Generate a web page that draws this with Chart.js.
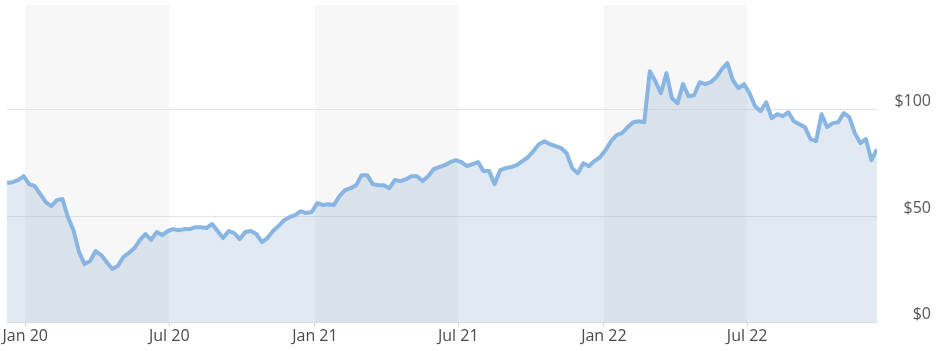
<!DOCTYPE html>
<html>
<head>
<meta charset="utf-8">
<script src="https://cdn.jsdelivr.net/npm/chart.js@4.4.1/dist/chart.umd.min.js"></script>
<style>
  html, body { margin: 0; padding: 0; background: #fff; }
  #wrap { width: 942px; height: 351px; position: relative; }
</style>
</head>
<body>
<div id="wrap"><canvas id="priceChart"></canvas></div>
<script>
const DAY = 86400000;

// weekly closes, first week starts Mon 9 Dec 2019
const firstWeek = Date.UTC(2019, 11, 9);
const weeklyPrices = [
  65.5, 65.9, 66.9, 68.7, 65.0, 64.1, 60.3, 56.6, 54.7, 57.5,
  58.0, 49.5, 43.4, 33.1, 27.5, 28.9, 33.6, 31.7, 28.4, 25.2,
  26.6, 30.8, 32.7, 35.0, 38.8, 41.6, 38.8, 42.5, 41.1, 43.0,
  43.9, 43.4, 43.9, 43.9, 44.8, 44.8, 44.4, 46.3, 43.0, 39.7,
  43.0, 42.0, 39.2, 42.5, 43.0, 41.6, 37.8, 39.7, 43.0, 45.3,
  48.1, 49.5, 50.5, 52.3, 51.4, 51.9, 56.1, 55.2, 55.6, 55.2,
  59.4, 62.2, 63.1, 64.5, 69.2, 69.2, 65.0, 64.5, 64.5, 63.1,
  66.9, 66.4, 67.3, 68.7, 68.7, 66.4, 68.7, 72.0, 73.0, 73.9,
  75.3, 76.2, 75.3, 73.4, 74.4, 75.3, 71.1, 71.1, 65.0, 71.6,
  72.5, 73.0, 73.9, 75.8, 77.6, 80.5, 83.7, 85.1, 83.7, 82.8,
  81.9, 79.5, 72.5, 70.1, 74.8, 73.4, 75.8, 77.6, 80.9, 85.1,
  88.0, 88.9, 91.7, 94.0, 94.5, 94.0, 117.9, 113.3, 107.6, 117.0,
  105.3, 103.0, 111.9, 106.2, 106.7, 112.8, 111.9, 112.8, 115.1, 118.9,
  121.7, 113.7, 110.0, 111.9, 107.6, 101.5, 99.2, 103.4, 95.9, 97.8,
  96.9, 98.7, 94.5, 93.1, 91.7, 86.1, 85.1, 97.8, 91.7, 93.6,
  94.0, 98.3, 96.4, 88.9, 84.2, 86.1, 76.2, 81.4
];
const weekDates = weeklyPrices.map((_, i) => firstWeek + i * 7 * DAY);

const xTickDates = [Date.UTC(2020, 0, 1), Date.UTC(2020, 6, 1), Date.UTC(2021, 0, 1),
                    Date.UTC(2021, 6, 1), Date.UTC(2022, 0, 1), Date.UTC(2022, 6, 1)];
const xTickLabels = ["Jan 20", "Jul 20", "Jan 21", "Jul 21", "Jan 22", "Jul 22"];

const yTicks = [0, 50, 100];
const yTickLabels = ["$0", "$50", "$100"];

// first half of each year is shaded
const shadedRanges = [
  [Date.UTC(2020, 0, 1), Date.UTC(2020, 6, 1)],
  [Date.UTC(2021, 0, 1), Date.UTC(2021, 6, 1)],
  [Date.UTC(2022, 0, 1), Date.UTC(2022, 6, 1)]
];

const bandPlugin = {
  id: "halfYearBands",
  beforeDraw(chart) {
    const { ctx, chartArea, scales } = chart;
    ctx.save();
    ctx.fillStyle = "#f7f7f7";
    shadedRanges.forEach(([a, b]) => {
      const x1 = scales.x.getPixelForValue(a);
      const x2 = scales.x.getPixelForValue(b);
      ctx.fillRect(x1, chartArea.top, x2 - x1, chartArea.bottom - chartArea.top);
    });
    ctx.restore();
  }
};

const labelFont = { family: "'Open Sans', sans-serif", size: 16 };

new Chart(document.getElementById("priceChart"), {
  type: "line",
  data: {
    datasets: [{
      data: weekDates.map((d, i) => ({ x: d, y: weeklyPrices[i] })),
      borderColor: "#88b5e1",
      borderWidth: 4,
      borderJoinStyle: "round",
      backgroundColor: "rgba(120, 160, 200, 0.22)",
      fill: "origin",
      pointRadius: 0,
      tension: 0
    }]
  },
  options: {
    responsive: true,
    maintainAspectRatio: false,
    animation: false,
    devicePixelRatio: 1,
    layout: { padding: { left: 7, right: 11, top: 5, bottom: 0 } },
    plugins: { legend: { display: false }, tooltip: { enabled: false } },
    scales: {
      x: {
        type: "linear",
        min: weekDates[0],
        max: weekDates[weekDates.length - 1],
        afterBuildTicks: (axis) => { axis.ticks = xTickDates.map((v) => ({ value: v })); },
        afterFit: (axis) => { axis.height = 28.3; axis.paddingLeft = 0; axis.paddingRight = 0; },
        grid: { drawOnChartArea: false, tickLength: 4, tickColor: "#d4d4d4" },
        border: { color: "#e3e3e3" },
        ticks: {
          padding: 0,
          color: "#4a4a4a",
          font: labelFont,
          maxRotation: 0,
          autoSkip: false,
          callback: (v) => xTickLabels[xTickDates.indexOf(v)]
        }
      },
      y: {
        position: "right",
        min: 0,
        max: 149,
        afterBuildTicks: (axis) => { axis.ticks = yTicks.map((v) => ({ value: v })); },
        afterFit: (axis) => { axis.width = 54; axis.paddingTop = 0; axis.paddingBottom = 0; },
        grid: { color: "#e2e2e2", drawTicks: false },
        border: { display: false },
        ticks: {
          padding: 17,
          crossAlign: "far",
          labelOffset: -8,
          color: "#555",
          font: labelFont,
          callback: (v) => yTickLabels[yTicks.indexOf(v)]
        }
      }
    }
  },
  plugins: [bandPlugin]
});
</script>
</body>
</html>
